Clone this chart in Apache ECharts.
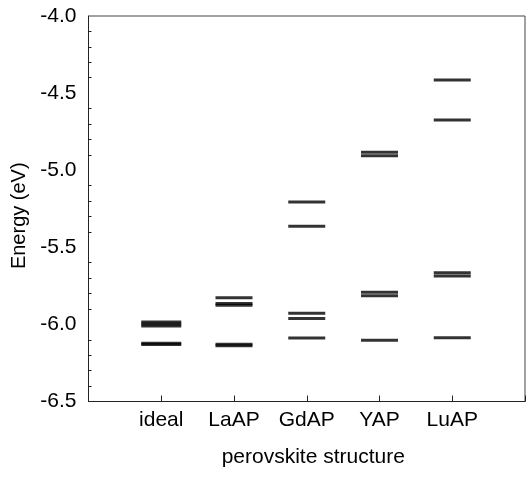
<!DOCTYPE html>
<html>
<head>
<meta charset="utf-8">
<script src="https://cdn.jsdelivr.net/npm/echarts@6/dist/echarts.min.js"></script>
<style>
  html, body { margin: 0; padding: 0; background: #fff; }
  #levels { width: 528px; height: 479px; }
</style>
</head>
<body>
<div id="levels"></div>
<script>
// energy levels per structure (eV)
var categories = ['ideal', 'LaAP', 'GdAP', 'YAP', 'LuAP'];
var idealLevels = [-5.985, -5.998, -6.011, -6.122, -6.130];
var laapLevels = [-5.827, -5.864, -5.875, -6.128, -6.139];
var gdapLevels = [-5.206, -5.364, -5.928, -5.961, -6.088];
var yapLevels = [-4.884, -4.906, -5.792, -5.814, -6.103];
var luapLevels = [-4.415, -4.674, -5.665, -5.686, -6.086];

(function(){

    var chart = echarts.init(document.getElementById('levels'));

    var allLevels = [idealLevels, laapLevels, gdapLevels, yapLevels, luapLevels];
    var points = [];
    allLevels.forEach(function(list, i){
        list.forEach(function(v){
            points.push([categories[i], v]);
        });
    });

    var font = "'Liberation Sans', Arial, sans-serif";

    var option = {
        animation: false,
        backgroundColor: '#fff',
        grid: {
            left: 88.5,
            right: 3,
            top: 16,
            bottom: 77.5,
            show: true,
            borderColor: '#444',
            borderWidth: 1
        },
        xAxis: {
            type: 'category',
            boundaryGap: false,
            data: [''].concat(categories).concat(['']),
            name: 'perovskite structure',
            nameLocation: 'middle',
            nameGap: 45,
            nameTextStyle: { color: '#000', fontSize: 21, fontFamily: font, padding: [0, 0, 0, 13] },
            axisLine: { lineStyle: { color: '#222', width: 1 } },
            axisTick: { inside: true, length: 6, lineStyle: { color: '#222' } },
            axisLabel: { color: '#000', fontSize: 21, fontFamily: font, margin: 8, interval: 0 },
            splitLine: { show: false }
        },
        yAxis: {
            type: 'value',
            min: -6.5,
            max: -4.0,
            interval: 0.5,
            name: 'Energy (eV)',
            nameLocation: 'middle',
            nameGap: 57,
            nameTextStyle: { color: '#000', fontSize: 20, fontFamily: font, padding: [0, 14, 0, 0] },
            axisLine: { show: true, lineStyle: { color: '#222', width: 1 } },
            axisTick: { inside: true, length: 6, lineStyle: { color: '#222' } },
            minorTick: { show: true, splitNumber: 5, length: 3, lineStyle: { color: '#222' } },
            axisLabel: {
                color: '#000', fontSize: 21, fontFamily: font, margin: 12,
                formatter: function(v){ return v.toFixed(1); }
            },
            splitLine: { show: false }
        },
        series: [
            {
                type: 'scatter',
                symbol: 'rect',
                symbolSize: function(val){
                    return [val[0] === 'ideal' ? 40 : 37, 3];
                },
                itemStyle: { color: '#000' },
                data: points
            }
        ]
    };

    chart.setOption(option);
})();
</script>
</body>
</html>
